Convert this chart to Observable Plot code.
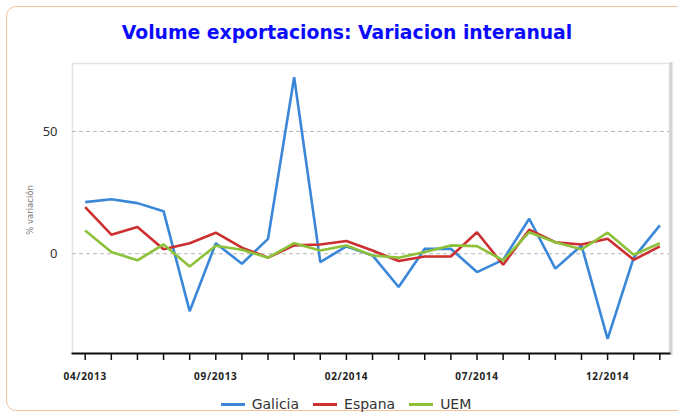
<!DOCTYPE html>
<html>
<head>
<meta charset="utf-8">
<script src="https://cdn.jsdelivr.net/npm/d3@7"></script>
<script src="https://cdn.jsdelivr.net/npm/@observablehq/plot@0.6"></script>
<style>
  html, body { margin: 0; padding: 0; background: #fff; }
  #wrap { position: relative; width: 678px; height: 414px; overflow: hidden; font-family: "DejaVu Sans", sans-serif; }
  #border { position: absolute; left: 6px; top: 6px; width: 720px; height: 405px; border: 1px solid #f3c29c; border-radius: 10px; box-sizing: border-box; }
  #title { position: absolute; left: 0; width: 694px; top: 22px; text-align: center; font-weight: bold; font-size: 18.8px; color: #0a0aff; white-space: nowrap; }
  #chart { position: absolute; left: 0; top: 0; }
  #chart svg g[aria-label="x-axis tick label"] text { letter-spacing: 0.7px; }
  #ylabel { position: absolute; left: 30px; top: 210px; transform: translate(-50%, -50%) rotate(-90deg); font-size: 8.5px; color: #777; white-space: nowrap; }
  #legend { position: absolute; left: 0; width: 692px; top: 396px; display: flex; justify-content: center; gap: 14px; font-size: 14px; color: #333; }
  #legend span.item { display: flex; align-items: center; }
  #legend span.sw { display: inline-block; width: 24px; height: 3px; margin-right: 7px; }
</style>
</head>
<body>
<div id="wrap">
  <div id="border"></div>
  <div id="chart"></div>
  <div id="title">Volume exportacions: Variacion interanual</div>
  <div id="ylabel">% variación</div>
  <div id="legend"></div>
</div>
<script>
const months = ["04/2013","05/2013","06/2013","07/2013","08/2013","09/2013","10/2013","11/2013","12/2013",
  "01/2014","02/2014","03/2014","04/2014","05/2014","06/2014","07/2014","08/2014","09/2014","10/2014","11/2014","12/2014",
  "01/2015","02/2015"];
const galicia = [21.1, 22.3, 20.7, 17.4, -23.5, 4.3, -4.1, 6.1, 72.2, -3.4, 3.0, -0.7, -13.6, 2.0, 2.0, -7.5, -2.5, 14.3, -6.1, 3.4, -34.8, -1.6, 11.6];
const espana = [19.1, 7.8, 10.9, 1.8, 4.3, 8.6, 2.5, -1.6, 3.4, 3.8, 5.2, 1.3, -3.0, -1.1, -1.1, 8.8, -4.5, 9.8, 4.7, 3.8, 6.1, -2.5, 3.0];
const uem = [9.5, 0.7, -2.7, 3.8, -5.2, 3.3, 1.6, -1.6, 4.3, 1.3, 3.4, -0.7, -1.6, 0.7, 3.4, 3.1, -2.7, 8.8, 4.7, 1.8, 8.6, -0.4, 4.3];
const seriesNames = ["Galicia", "Espana", "UEM"];
const seriesColors = ["#3a86d8", "#cc2f2f", "#8dc13a"];
const yTicks = [0, 50];
const labelTicks = [0, 5, 10, 15, 20];

const seriesValues = [galicia, espana, uem];
const data = [];
seriesNames.forEach((name, s) => {
  seriesValues[s].forEach((v, i) => data.push({series: name, i, month: months[i], value: v}));
});

const chart = Plot.plot({
  width: 678,
  height: 414,
  marginTop: 63,
  marginBottom: 61,
  marginLeft: 72,
  marginRight: 9,
  style: {background: "transparent", overflow: "visible"},
  x: {type: "linear", domain: [-0.486, 22.37], label: null},
  y: {domain: [-40.8, 77.8], label: null},
  color: {domain: seriesNames, range: seriesColors},
  marks: [
    Plot.frame({stroke: "#e4e4e4", strokeWidth: 1.5}),
    Plot.frame({anchor: "right", stroke: "#d4d4d4", strokeWidth: 3, dx: 1.5}),
    Plot.ruleY(yTicks, {stroke: "#b8b8b8", strokeDasharray: "4,3", strokeWidth: 1}),
    Plot.line(data, {x: "i", y: "value", z: "series", stroke: "series", strokeWidth: 2.6, strokeLinejoin: "miter", strokeLinecap: "butt"}),
    Plot.frame({anchor: "bottom", stroke: "#111", strokeWidth: 2}),
    Plot.axisX(d3.range(months.length), {tickSize: 7, tickFormat: () => "", stroke: "#111", strokeWidth: 1.5, label: null}),
    Plot.axisX(labelTicks, {tickSize: 0, tickPadding: 19, tickFormat: i => months[i], fontSize: 10, fontWeight: "bold", fill: "#222", label: null}),
    Plot.axisY(yTicks, {tickSize: 0, tickPadding: 15, fontSize: 13, fill: "#333", label: null})
  ]
});
document.getElementById("chart").appendChild(chart);

const legend = document.getElementById("legend");
seriesNames.forEach((name, s) => {
  const item = document.createElement("span");
  item.className = "item";
  const sw = document.createElement("span");
  sw.className = "sw";
  sw.style.background = seriesColors[s];
  item.appendChild(sw);
  item.appendChild(document.createTextNode(name));
  legend.appendChild(item);
});
</script>
</body>
</html>
